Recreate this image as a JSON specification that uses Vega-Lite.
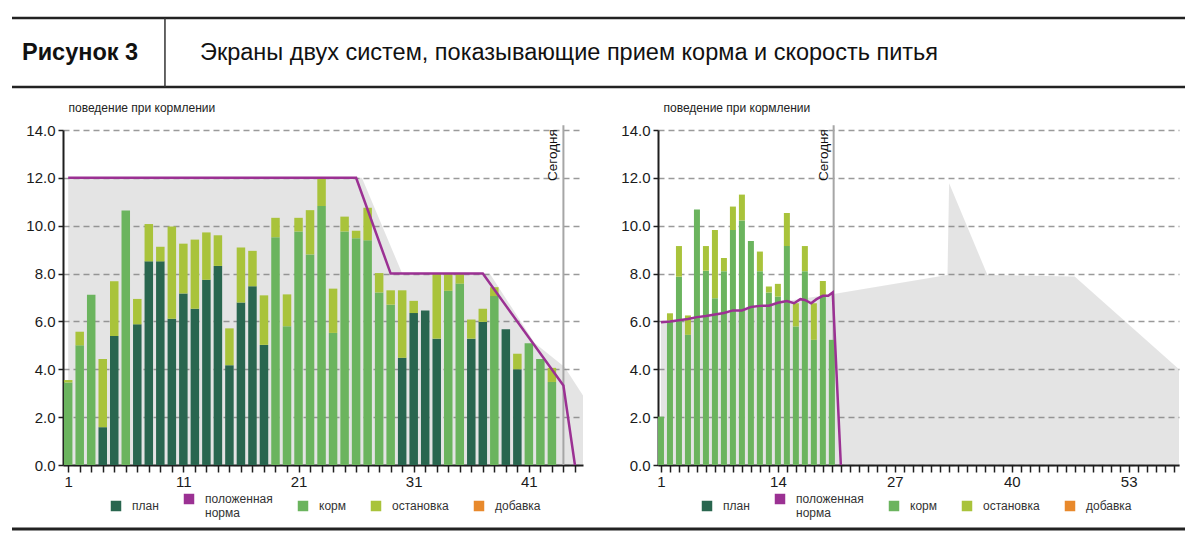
{
  "$schema": "https://vega.github.io/schema/vega-lite/v6.json",
  "background": "white",
  "padding": {"left": 10, "top": 16, "right": 0, "bottom": 0},
  "config": {
    "font": "Liberation Sans",
    "view": {"stroke": null},
    "axisX": {"domainColor": "#1e1e1e", "domainWidth": 2, "tickColor": "#1e1e1e", "tickWidth": 1.5, "tickSize": 7, "labelFontSize": 15, "labelColor": "#1a1a1a", "labelPadding": 2, "labelFlush": false, "labelOverlap": false, "grid": false},
    "axisY": {"domainColor": "#1e1e1e", "domainWidth": 2, "tickColor": "#1e1e1e", "tickWidth": 1.5, "tickSize": 5, "labelFontSize": 15, "labelColor": "#1a1a1a", "labelPadding": 3, "grid": true, "gridColor": "#9a9a9a", "gridDash": [6, 4], "gridWidth": 1.5, "titleAngle": 0, "titleAlign": "left", "titleBaseline": "middle", "titleX": 5, "titleY": -23, "titleFontSize": 12, "titleFontWeight": "normal", "titleColor": "#222"},
    "legend": {"orient": "none", "direction": "horizontal", "padding": 0, "symbolType": "square", "symbolSize": 110, "symbolStrokeWidth": 0, "labelFontSize": 12, "labelColor": "#333", "labelOffset": 10, "columnPadding": 24}
  },
  "datasets": {
    "bars1": [
      {"d": 1, "kind": "корм", "base": 3.45, "top": 3.55},
      {"d": 2, "kind": "корм", "base": 5.0, "top": 5.57},
      {"d": 3, "kind": "корм", "base": 7.11, "top": 7.11},
      {"d": 4, "kind": "план", "base": 1.58, "top": 4.43},
      {"d": 5, "kind": "план", "base": 5.39, "top": 7.68},
      {"d": 6, "kind": "корм", "base": 10.64, "top": 10.64},
      {"d": 7, "kind": "план", "base": 5.88, "top": 6.94},
      {"d": 8, "kind": "план", "base": 8.51, "top": 10.07},
      {"d": 9, "kind": "план", "base": 8.51, "top": 9.12},
      {"d": 10, "kind": "план", "base": 6.11, "top": 9.97},
      {"d": 11, "kind": "план", "base": 7.17, "top": 9.25},
      {"d": 12, "kind": "план", "base": 6.53, "top": 9.42},
      {"d": 13, "kind": "план", "base": 7.74, "top": 9.72},
      {"d": 14, "kind": "план", "base": 8.32, "top": 9.6},
      {"d": 15, "kind": "план", "base": 4.17, "top": 5.71},
      {"d": 16, "kind": "план", "base": 6.79, "top": 9.09},
      {"d": 17, "kind": "план", "base": 7.47, "top": 8.95},
      {"d": 18, "kind": "план", "base": 5.02, "top": 7.09},
      {"d": 19, "kind": "корм", "base": 9.52, "top": 10.33},
      {"d": 20, "kind": "корм", "base": 5.8, "top": 7.13},
      {"d": 21, "kind": "корм", "base": 9.76, "top": 10.33},
      {"d": 22, "kind": "корм", "base": 8.8, "top": 10.65},
      {"d": 23, "kind": "корм", "base": 10.82, "top": 12.0},
      {"d": 24, "kind": "корм", "base": 5.52, "top": 7.37},
      {"d": 25, "kind": "корм", "base": 9.76, "top": 10.38},
      {"d": 26, "kind": "корм", "base": 9.48, "top": 9.79},
      {"d": 27, "kind": "корм", "base": 9.39, "top": 10.75},
      {"d": 28, "kind": "корм", "base": 7.21, "top": 8.02},
      {"d": 29, "kind": "корм", "base": 6.7, "top": 7.3},
      {"d": 30, "kind": "план", "base": 4.48, "top": 7.3},
      {"d": 31, "kind": "план", "base": 6.35, "top": 6.86},
      {"d": 32, "kind": "план", "base": 6.46, "top": 6.46},
      {"d": 33, "kind": "план", "base": 5.28, "top": 8.02},
      {"d": 34, "kind": "корм", "base": 7.28, "top": 8.02},
      {"d": 35, "kind": "корм", "base": 7.58, "top": 8.02},
      {"d": 36, "kind": "план", "base": 5.28, "top": 6.08},
      {"d": 37, "kind": "план", "base": 5.98, "top": 6.53},
      {"d": 38, "kind": "корм", "base": 7.06, "top": 7.43},
      {"d": 39, "kind": "план", "base": 5.67, "top": 5.67},
      {"d": 40, "kind": "план", "base": 4.0, "top": 4.65},
      {"d": 41, "kind": "корм", "base": 5.09, "top": 5.09},
      {"d": 42, "kind": "корм", "base": 4.43, "top": 4.43},
      {"d": 43, "kind": "корм", "base": 3.47, "top": 4.06}
    ],
    "bars2": [
      {"d": 1, "kind": "корм", "base": 2.02, "top": 2.02},
      {"d": 2, "kind": "корм", "base": 6.04, "top": 6.34},
      {"d": 3, "kind": "корм", "base": 7.87, "top": 9.15},
      {"d": 4, "kind": "корм", "base": 5.44, "top": 6.25},
      {"d": 5, "kind": "корм", "base": 10.68, "top": 10.68},
      {"d": 6, "kind": "корм", "base": 8.12, "top": 9.15},
      {"d": 7, "kind": "корм", "base": 6.97, "top": 9.82},
      {"d": 8, "kind": "корм", "base": 8.1, "top": 8.65},
      {"d": 9, "kind": "корм", "base": 9.82, "top": 10.8},
      {"d": 10, "kind": "корм", "base": 10.22, "top": 11.3},
      {"d": 11, "kind": "корм", "base": 9.36, "top": 9.36},
      {"d": 12, "kind": "корм", "base": 8.1, "top": 8.92},
      {"d": 13, "kind": "корм", "base": 7.21, "top": 7.46},
      {"d": 14, "kind": "корм", "base": 7.04, "top": 7.57},
      {"d": 15, "kind": "корм", "base": 9.15, "top": 10.53},
      {"d": 16, "kind": "корм", "base": 5.79, "top": 6.76},
      {"d": 17, "kind": "корм", "base": 8.1, "top": 9.15},
      {"d": 18, "kind": "корм", "base": 5.23, "top": 6.76},
      {"d": 19, "kind": "корм", "base": 7.1, "top": 7.69},
      {"d": 20, "kind": "корм", "base": 5.23, "top": 5.23}
    ],
    "norm1": [
      {"d": 1, "v": 12}, {"d": 26, "v": 12}, {"d": 29, "v": 8}, {"d": 37, "v": 8}, {"d": 44, "v": 3.32}, {"d": 45, "v": 0}
    ],
    "norm2": [
      {"d": 1, "v": 5.97}, {"d": 2, "v": 6.0}, {"d": 3, "v": 6.05}, {"d": 4, "v": 6.1}, {"d": 5, "v": 6.18},
      {"d": 6, "v": 6.23}, {"d": 7, "v": 6.29}, {"d": 8, "v": 6.35}, {"d": 9, "v": 6.46}, {"d": 10, "v": 6.46},
      {"d": 11, "v": 6.6}, {"d": 12, "v": 6.65}, {"d": 13, "v": 6.66}, {"d": 14, "v": 6.78}, {"d": 15, "v": 6.85},
      {"d": 15.8, "v": 6.76}, {"d": 16.5, "v": 6.93}, {"d": 17, "v": 6.9}, {"d": 17.7, "v": 6.76}, {"d": 18.3, "v": 6.93},
      {"d": 19, "v": 7.07}, {"d": 19.6, "v": 7.07}, {"d": 20.1, "v": 7.21}, {"d": 21, "v": 0}
    ],
    "gray1": [
      {"d": 1, "g": 12}, {"d": 26.5, "g": 12}, {"d": 30, "g": 8}, {"d": 37.6, "g": 8}, {"d": 41.5, "g": 5.1}, {"d": 44.1, "g": 4.1}, {"d": 45.7, "g": 2.9}
    ],
    "gray2": [
      {"d": 1, "g": 5.97}, {"d": 5, "g": 6.18}, {"d": 10, "g": 6.46}, {"d": 15, "g": 6.85}, {"d": 20.2, "g": 7.15},
      {"d": 32.86, "g": 7.94}, {"d": 33.04, "g": 11.77}, {"d": 37.3, "g": 7.94}, {"d": 47, "g": 7.88}, {"d": 58.6, "g": 4.0}
    ]
  },
  "spacing": 3,
  "vconcat": [
    {
      "width": 1122,
      "height": 80,
      "data": {"values": [{}]},
      "layer": [
        {"mark": {"type": "rule", "stroke": "#222", "strokeWidth": 2.5},
         "encoding": {"x": {"datum": 0, "type": "quantitative", "scale": {"domain": [0, 1], "range": [-51, 1122]}, "axis": null}, "x2": {"datum": 1}, "y": {"datum": 1, "type": "quantitative", "scale": {"domain": [0, 1], "range": [69, 0]}, "axis": null}}},
        {"mark": {"type": "rule", "stroke": "#222", "strokeWidth": 2.5},
         "encoding": {"x": {"datum": 0, "type": "quantitative"}, "x2": {"datum": 1}, "y": {"datum": 0, "type": "quantitative"}}},
        {"mark": {"type": "rule", "stroke": "#333", "strokeWidth": 1.5},
         "encoding": {"x": {"datum": 0.1304, "type": "quantitative"}, "y": {"datum": 0, "type": "quantitative"}, "y2": {"datum": 1}}},
        {"mark": {"type": "text", "text": "Рисунок 3", "fontSize": 23.5, "fontWeight": "bold", "align": "left", "baseline": "middle", "color": "#111"},
         "encoding": {"x": {"datum": 0.0085, "type": "quantitative"}, "y": {"datum": 0.5, "type": "quantitative"}}},
        {"mark": {"type": "text", "text": "Экраны двух систем, показывающие прием корма и скорость питья", "fontSize": 23.5, "align": "left", "baseline": "middle", "color": "#111"},
         "encoding": {"x": {"datum": 0.1603, "type": "quantitative"}, "y": {"datum": 0.5, "type": "quantitative"}}}
      ]
    },
    {
      "spacing": 37,
      "resolve": {"legend": {"color": "independent"}},
      "hconcat": [
        {
          "width": 520,
          "height": 335,
          "layer": [
            {"data": {"name": "gray1"},
             "mark": {"type": "area", "fill": "#808080", "fillOpacity": 0.21},
             "encoding": {
               "x": {"field": "d", "type": "quantitative", "title": null, "scale": {"domain": [0.55, 45.7], "nice": false, "zero": false, "padding": 0},
                     "axis": {"labelOverlap": false, "tickCount": 100, "format": "d", "values": [1,2,3,4,5,6,7,8,9,10,11,12,13,14,15,16,17,18,19,20,21,22,23,24,25,26,27,28,29,30,31,32,33,34,35,36,37,38,39,40,41,42,43,44,45], "labelExpr": "datum.value % 10 == 1 ? datum.label : ''"}},
               "y": {"field": "g", "type": "quantitative", "title": "поведение при кормлении", "scale": {"domain": [0, 14], "nice": false},
                     "axis": {"values": [0,2,4,6,8,10,12,14], "format": ".1f"}}
             }},
            {"data": {"values": [{}]},
             "mark": {"type": "rule", "stroke": "#a6a6a6", "strokeWidth": 2},
             "encoding": {"x": {"datum": 44, "type": "quantitative", "title": null}, "y": {"datum": 0, "type": "quantitative", "title": "поведение при кормлении"}, "y2": {"datum": 14.2}}},
            {"data": {"values": [{}]},
             "mark": {"type": "text", "text": "Сегодня", "angle": 270, "align": "right", "baseline": "bottom", "dx": -4, "dy": -3, "fontSize": 13.5, "color": "#111"},
             "encoding": {"x": {"datum": 44, "type": "quantitative", "title": null}, "y": {"datum": 14.2, "type": "quantitative", "title": "поведение при кормлении"}}},
            {"data": {"name": "bars1"},
             "mark": {"type": "bar", "size": 8.5},
             "encoding": {
               "x": {"field": "d", "type": "quantitative", "title": null},
               "y": {"field": "base", "type": "quantitative", "title": "поведение при кормлении"},
               "color": {"field": "kind", "type": "nominal",
                         "scale": {"domain": ["план", "положенная норма", "корм", "остановка", "добавка"], "range": ["#29664f", "#9b3193", "#6bb45e", "#a9c33b", "#e8892c"]},
                         "legend": {"title": null, "legendX": 47, "legendY": 363, "labelExpr": "datum.label == 'положенная норма' ? ['положенная', 'норма'] : datum.label"}}
             }},
            {"data": {"name": "bars1"},
             "transform": [{"filter": "datum.top > datum.base"}],
             "mark": {"type": "bar", "size": 8.5},
             "encoding": {
               "x": {"field": "d", "type": "quantitative", "title": null},
               "y": {"field": "top", "type": "quantitative", "title": "поведение при кормлении"},
               "y2": {"field": "base"},
               "color": {"datum": "остановка", "type": "nominal"}
             }},
            {"data": {"name": "norm1"},
             "mark": {"type": "line", "color": "#9b3193", "strokeWidth": 2.5},
             "encoding": {
               "x": {"field": "d", "type": "quantitative", "title": null},
               "y": {"field": "v", "type": "quantitative", "title": "поведение при кормлении"}
             }}
          ]
        },
        {
          "width": 521,
          "height": 335,
          "layer": [
            {"data": {"name": "gray2"},
             "mark": {"type": "area", "fill": "#808080", "fillOpacity": 0.21},
             "encoding": {
               "x": {"field": "d", "type": "quantitative", "title": null, "scale": {"domain": [0.67, 58.6], "nice": false, "zero": false, "padding": 0},
                     "axis": {"labelOverlap": false, "tickCount": 100, "format": "d", "values": [1,2,3,4,5,6,7,8,9,10,11,12,13,14,15,16,17,18,19,20,21,22,23,24,25,26,27,28,29,30,31,32,33,34,35,36,37,38,39,40,41,42,43,44,45,46,47,48,49,50,51,52,53,54,55,56,57,58], "labelExpr": "(datum.value - 1) % 13 == 0 ? datum.label : ''"}},
               "y": {"field": "g", "type": "quantitative", "title": "поведение при кормлении", "scale": {"domain": [0, 14], "nice": false},
                     "axis": {"values": [0,2,4,6,8,10,12,14], "format": ".1f"}}
             }},
            {"data": {"values": [{}]},
             "mark": {"type": "rule", "stroke": "#a6a6a6", "strokeWidth": 2},
             "encoding": {"x": {"datum": 20.2, "type": "quantitative", "title": null}, "y": {"datum": 0, "type": "quantitative", "title": "поведение при кормлении"}, "y2": {"datum": 14.2}}},
            {"data": {"values": [{}]},
             "mark": {"type": "text", "text": "Сегодня", "angle": 270, "align": "right", "baseline": "bottom", "dx": -4, "dy": -3, "fontSize": 13.5, "color": "#111"},
             "encoding": {"x": {"datum": 20.2, "type": "quantitative", "title": null}, "y": {"datum": 14.2, "type": "quantitative", "title": "поведение при кормлении"}}},
            {"data": {"name": "bars2"},
             "mark": {"type": "bar", "size": 6},
             "encoding": {
               "x": {"field": "d", "type": "quantitative", "title": null},
               "y": {"field": "base", "type": "quantitative", "title": "поведение при кормлении"},
               "color": {"field": "kind", "type": "nominal",
                         "scale": {"domain": ["план", "положенная норма", "корм", "остановка", "добавка"], "range": ["#29664f", "#9b3193", "#6bb45e", "#a9c33b", "#e8892c"]},
                         "legend": {"title": null, "legendX": 43, "legendY": 363, "labelExpr": "datum.label == 'положенная норма' ? ['положенная', 'норма'] : datum.label"}}
             }},
            {"data": {"name": "bars2"},
             "transform": [{"filter": "datum.top > datum.base"}],
             "mark": {"type": "bar", "size": 6},
             "encoding": {
               "x": {"field": "d", "type": "quantitative", "title": null},
               "y": {"field": "top", "type": "quantitative", "title": "поведение при кормлении"},
               "y2": {"field": "base"},
               "color": {"datum": "остановка", "type": "nominal"}
             }},
            {"data": {"name": "norm2"},
             "mark": {"type": "line", "color": "#9b3193", "strokeWidth": 2.5},
             "encoding": {
               "x": {"field": "d", "type": "quantitative", "title": null},
               "y": {"field": "v", "type": "quantitative", "title": "поведение при кормлении"}
             }}
          ]
        }
      ]
    },
    {
      "width": 1122,
      "height": 8,
      "data": {"values": [{}]},
      "mark": {"type": "rule", "stroke": "#222", "strokeWidth": 3},
      "encoding": {"x": {"datum": 0, "type": "quantitative", "scale": {"domain": [0, 1], "range": [-51, 1122]}, "axis": null}, "x2": {"datum": 1}, "y": {"datum": 0, "type": "quantitative", "scale": {"domain": [0, 1], "range": [7, 0]}, "axis": null}}
    }
  ]
}
